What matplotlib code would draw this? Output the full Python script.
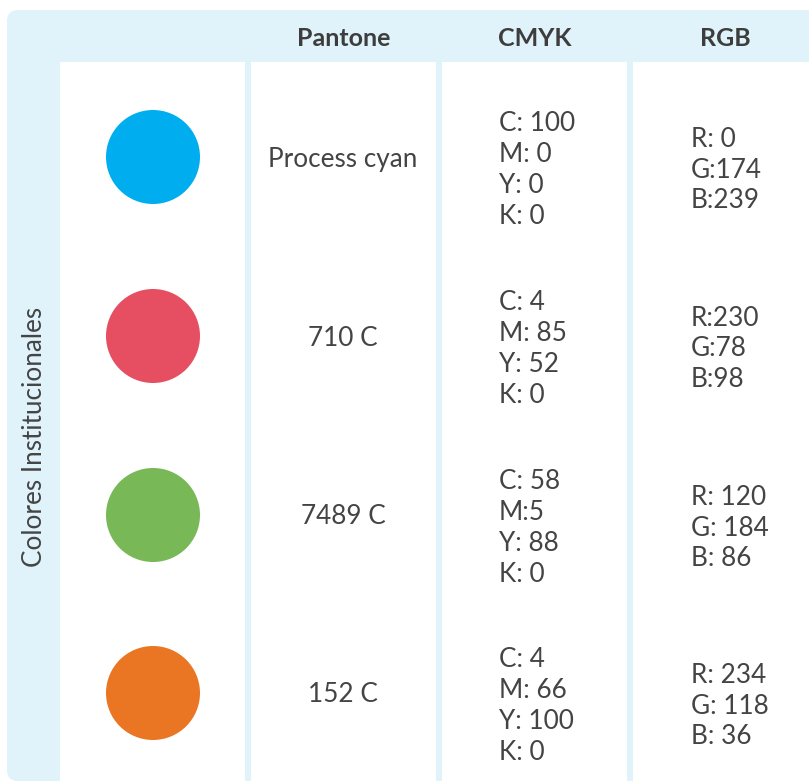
import matplotlib.pyplot as plt
from matplotlib.patches import FancyBboxPatch, Rectangle, Circle

# table contents
headers = ["Pantone", "CMYK", "RGB"]
side_label = "Colores Institucionales"
swatches = ["#00AEEF", "#E64E62", "#78B856", "#EA7624"]
pantone = ["Process cyan", "710 C", "7489 C", "152 C"]
cmyk = [["C: 100", "M: 0", "Y: 0", "K: 0"],
        ["C: 4", "M: 85", "Y: 52", "K: 0"],
        ["C: 58", "M:5", "Y: 88", "K: 0"],
        ["C: 4", "M: 66", "Y: 100", "K: 0"]]
rgb = [["R: 0", "G:174", "B:239"],
       ["R:230", "G:78", "B:98"],
       ["R: 120", "G: 184", "B: 86"],
       ["R: 234", "G: 118", "B: 36"]]

W, H = 809, 782
bg = "#E0F2FA"
txt = "#444444"
fs = 18.8

fig = plt.figure(figsize=(W / 100, H / 100), dpi=100)
ax = fig.add_axes([0, 0, 1, 1])
ax.set_xlim(0, W)
ax.set_ylim(H, 0)
ax.axis("off")

# light blue frame
ax.add_patch(FancyBboxPatch((7, 10), 830, 771, boxstyle="round,pad=0,rounding_size=11",
                            fc=bg, ec="none"))

# white cells
cols = [(60, 245), (251, 436), (442, 627), (633, 820)]
for x0, x1 in cols:
    ax.add_patch(Rectangle((x0, 62), x1 - x0, 730, fc="white", ec="none"))

# header
centers = [(a + b) / 2 for a, b in cols]
centers[3] = 725
for cx, h in zip(centers[1:], headers):
    ax.text(cx, 38, h, ha="center", va="center", fontsize=18, fontweight="bold",
            family="Lato", color="#3d3d3d")

ax.text(35, 437, side_label, rotation=90, ha="center", va="center", fontsize=fs,
        family="Lato", color=txt)

row_y = [157, 336, 515, 693]
lh = 30.8
for i, y in enumerate(row_y):
    ax.add_patch(Circle((153, y), 47, fc=swatches[i], ec="none"))
    ax.text(343, y + 2, pantone[i], ha="center", va="center", fontsize=fs,
            family="Lato", color=txt)
    n = len(cmyk[i])
    for j, s in enumerate(cmyk[i]):
        ax.text(499, y + 13 + (j - (n - 1) / 2) * lh, s, ha="left", va="center",
                fontsize=fs, family="Lato", color=txt)
    n = len(rgb[i])
    for j, s in enumerate(rgb[i]):
        ax.text(691, y + 13 + (j - (n - 1) / 2) * lh, s, ha="left", va="center",
                fontsize=fs, family="Lato", color=txt)

fig.savefig("out.png", dpi=100)
